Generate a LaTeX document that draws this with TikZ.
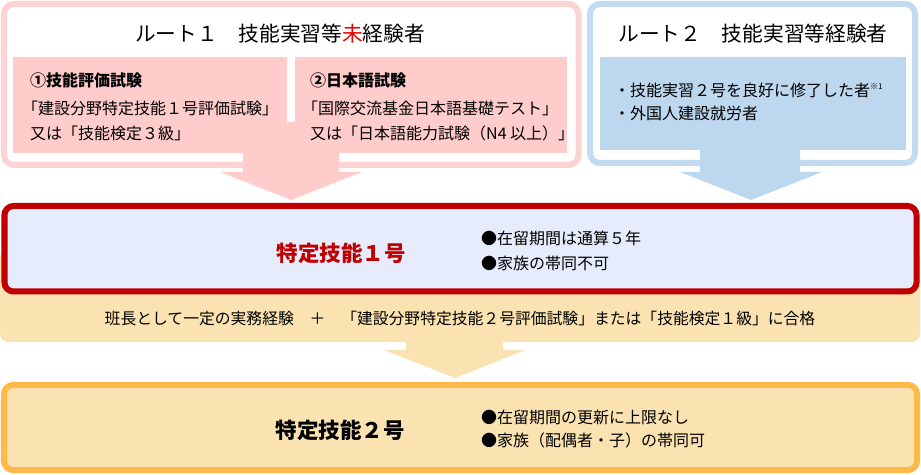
\documentclass[tikz,border=0pt]{standalone}
\usepackage{fontspec}
\setmainfont{Noto Sans CJK JP}
\definecolor{pinkB}{HTML}{FCD3D3}
\definecolor{pinkF}{HTML}{FFCCCC}
\definecolor{blueB}{HTML}{C3DBF0}
\definecolor{blueF}{HTML}{BDD7EE}
\definecolor{redB}{HTML}{C00000}
\definecolor{lav}{HTML}{E6ECFB}
\definecolor{band}{HTML}{FBE3B1}
\definecolor{orangeB}{HTML}{FFB84A}
\definecolor{brightred}{HTML}{E80000}
\begin{document}
\begin{tikzpicture}[x=1bp,y=-1bp,
  txt/.style={inner sep=0pt, anchor=west, font=\fontsize{16bp}{19bp}\selectfont},
  htxt/.style={inner sep=0pt, anchor=west, font=\fontsize{16bp}{19bp}\selectfont\bfseries},
  rtitle/.style={inner sep=0pt, font=\fontsize{20.7bp}{24bp}\selectfont},
  btitle/.style={inner sep=0pt, font=\fontsize{21.5bp}{25bp}\selectfont\bfseries},
  outer/.style={line width=6bp, rounded corners=10bp, fill=white},
  bigbox/.style={line width=6bp, rounded corners=9bp}]
\useasboundingbox (0,0) rectangle (921,475);
% band and yellow arrow
\fill[band, rounded corners=8bp] (0,250) rectangle (920,342);
\fill[band] (406,335) -- (503,335) -- (503,350) -- (525,350) -- (455,378) -- (384,350) -- (406,350) -- cycle;
% big boxes
\draw[bigbox, draw=redB, fill=lav] (4.5,206) rectangle (916.5,291.5);
\draw[bigbox, draw=orangeB, fill=band] (4,385) rectangle (917,470);
% route 1
\draw[outer, draw=pinkB] (4,4) rectangle (578.5,165);
\fill[pinkF] (243,122) -- (339,122) -- (339,172) -- (362,172) -- (291,200) -- (220,172) -- (243,172) -- cycle;
\fill[pinkF] (13,57) rectangle (287,153);
\fill[pinkF] (295,57) rectangle (567,153);
% route 2
\draw[outer, draw=blueB] (590,4) rectangle (915,163);
\fill[blueF] (700,122) -- (800,122) -- (800,172) -- (822,172) -- (751,200) -- (680,172) -- (700,172) -- cycle;
\fill[blueF] (600,57) rectangle (906,150);
% titles
\node[rtitle] (r1) at (280,34) {ルート１　技能実習等{\color{brightred}未}経験者};
\node[rtitle] (r2) at (753,34) {ルート２　技能実習等経験者};
% box texts
\node[htxt] (a1) at (30,80) {①技能評価試験};
\node[txt] (a2) at (22,108) {「建設分野特定技能１号評価試験」};
\node[txt] (a3) at (30,133) {又は「技能検定３級」};
\node[htxt] (b1) at (310,80) {②日本語試験};
\node[txt] (b2) at (302,108) {「国際交流基金日本語基礎テスト」};
\node[txt] (b3) at (310,133) {又は「日本語能力試験（N4 以上）」};
\node[txt] (c1) at (614,90) {・技能実習２号を良好に修了した者\textsuperscript{\fontsize{8bp}{9bp}\selectfont ※1}};
\node[txt] (c2) at (614,113) {・外国人建設就労者};
% tokutei 1
\node[btitle, text=redB] (t1) at (341,253) {特定技能１号};
\node[txt] (t1a) at (481,238) {●在留期間は通算５年};
\node[txt] (t1b) at (481,263) {●家族の帯同不可};
% band text
\node[inner sep=0pt, font=\fontsize{15.8bp}{18bp}\selectfont] (bt) at (460,318) {班長として一定の実務経験　＋　「建設分野特定技能２号評価試験」または「技能検定１級」に合格};
% tokutei 2
\node[btitle] (t2) at (340,430) {特定技能２号};
\node[txt] (t2a) at (481,417) {●在留期間の更新に上限なし};
\node[txt] (t2b) at (481,440) {●家族（配偶者・子）の帯同可};
\end{tikzpicture}
\end{document}
